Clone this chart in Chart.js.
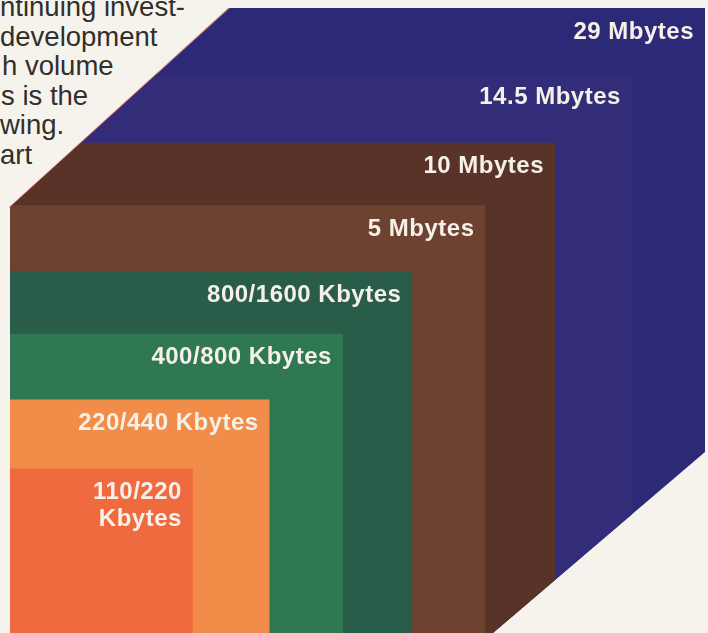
<!DOCTYPE html>
<html>
<head>
<meta charset="utf-8">
<script src="https://cdn.jsdelivr.net/npm/chart.js@4/dist/chart.umd.min.js"></script>
<style>
  html, body { margin: 0; padding: 0; background: #f6f3ec; }
  #wrap { position: relative; width: 708px; height: 633px; overflow: hidden; }
  #intro {
    position: absolute; left: 0; top: -8px;
    font-family: 'Liberation Sans', Arial, sans-serif;
    font-size: 27.5px; line-height: 29.5px; color: #302f2c;
    white-space: pre;
  }
  #chartCapacidad { position: absolute; left: 0; top: 0; }
</style>
</head>
<body>
<div id="wrap">
  <div id="intro"><div>ntinuing invest-</div><div>development</div><div style="margin-left:2px">h volume</div><div style="margin-left:1px">s is the</div><div>wing.</div><div>art</div></div>
  <canvas id="chartCapacidad" width="708" height="633"></canvas>
</div>
<script>
// capacidades, de la mas pequeña a la mayor
const etiquetas = [
    ['110/220', 'Kbytes'],
    ['220/440 Kbytes'],
    ['400/800 Kbytes'],
    ['800/1600 Kbytes'],
    ['5 Mbytes'],
    ['10 Mbytes'],
    ['14.5 Mbytes'],
    ['29 Mbytes']
];
// lado de cada cuadrado (escala relativa)
const lado = [2.5, 3.55, 4.55, 5.5, 6.5, 7.45, 8.5, 9.5];
const colores = ['#f06a40', '#f28d49', '#2f7853', '#295c49', '#6d4230', '#5a3328', '#332c79', '#2c2a77'];

// recorte en chaflan de las esquinas (sup. izq. e inf. der.)
const chaflan = {
    supIzq: [{x: 0, y: 6.47}, {x: 3.0, y: 9.5}],
    infDer: [{x: 9.5, y: 2.75}, {x: 6.6, y: 0}]
};

const recorte = {
    id: 'recorte',
    beforeDatasetsDraw(chart) {
        const {ctx, scales: {x, y}} = chart;
        const p = (pt) => [x.getPixelForValue(pt.x), y.getPixelForValue(pt.y)];
        const pts = [
            {x: 0, y: 0}, chaflan.infDer[1], chaflan.infDer[0],
            {x: 9.5, y: 9.5}, chaflan.supIzq[1], chaflan.supIzq[0]
        ].map(p);
        ctx.save();
        ctx.beginPath();
        pts.forEach(([px, py], i) => i ? ctx.lineTo(px, py) : ctx.moveTo(px, py));
        ctx.closePath();
        ctx.clip();
    },
    afterDatasetsDraw(chart) {
        const {ctx, scales: {x, y}} = chart;
        ctx.restore();

        // filete rojo del borde diagonal
        ctx.save();
        ctx.strokeStyle = 'rgba(200, 50, 40, 0.5)';
        ctx.lineWidth = 1.2;
        ctx.beginPath();
        ctx.moveTo(x.getPixelForValue(chaflan.supIzq[0].x) - 0.5, y.getPixelForValue(chaflan.supIzq[0].y));
        ctx.lineTo(x.getPixelForValue(chaflan.supIzq[1].x) - 0.5, y.getPixelForValue(chaflan.supIzq[1].y));
        ctx.stroke();
        ctx.restore();

        // rotulos en la esquina superior derecha de cada cuadrado
        ctx.save();
        ctx.font = 'bold 24px "Liberation Sans", Arial, sans-serif';
        ctx.letterSpacing = '0.5px';
        ctx.fillStyle = '#f5f1e8';
        ctx.textAlign = 'right';
        ctx.textBaseline = 'middle';
        lado.forEach((s, i) => {
            const px = x.getPixelForValue(s) - 11;
            const py = y.getPixelForValue(s) + 24;
            etiquetas[i].forEach((linea, j) => ctx.fillText(linea, px, py + j * 27));
        });
        ctx.restore();
    }
};

new Chart(document.getElementById('chartCapacidad'), {
    type: 'line',
    data: {
        datasets: lado.map((s, i) => ({
            label: etiquetas[i].join(' '),
            data: [{x: 0, y: s}, {x: s, y: s}],
            backgroundColor: colores[i],
            borderWidth: 0,
            pointRadius: 0,
            fill: 'origin'
        }))
    },
    options: {
        responsive: false,
        animation: false,
        layout: { padding: { left: 10, right: 3, top: 8, bottom: 0 } },
        scales: {
            x: { type: 'linear', min: 0, max: 9.5, display: false },
            y: { min: 0, max: 9.5, display: false }
        },
        plugins: {
            legend: { display: false },
            tooltip: { enabled: false }
        }
    },
    plugins: [recorte]
});
</script>
</body>
</html>
